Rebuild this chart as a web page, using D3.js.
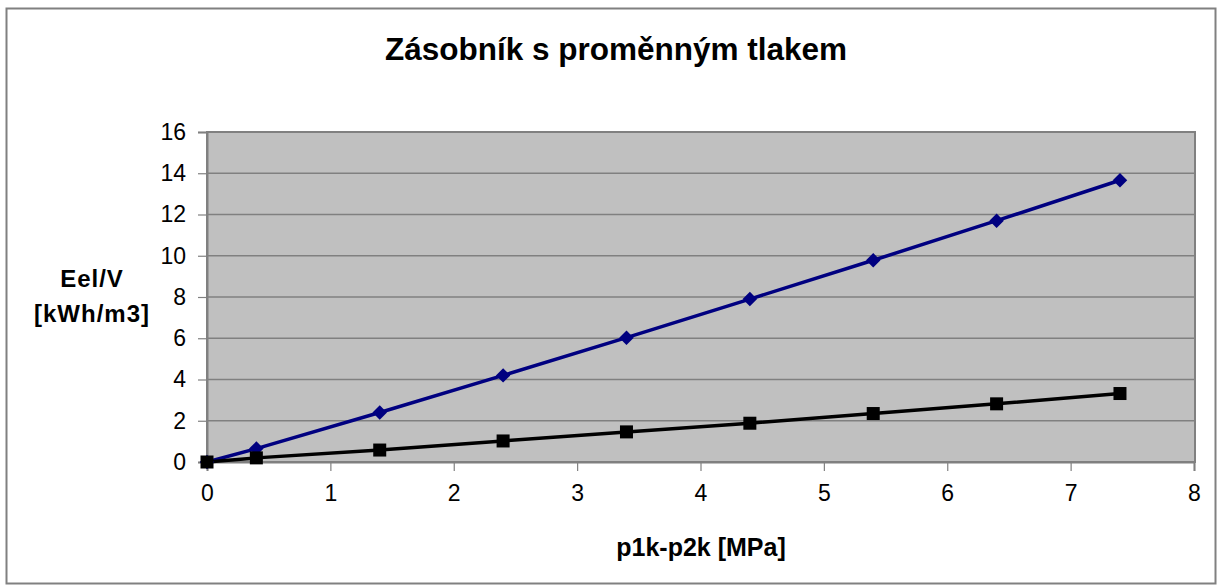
<!DOCTYPE html>
<html>
<head>
<meta charset="utf-8">
<script src="https://cdn.jsdelivr.net/npm/d3@7"></script>
<style>
  body { margin: 0; background: #fff; }
  text { font-family: "Liberation Sans", Arial, sans-serif; }
</style>
</head>
<body>
<div id="chart"></div>
<script>
// data
const pressure = [0, 0.4, 1.4, 2.4, 3.4, 4.4, 5.4, 6.4, 7.4];
const eBlue = [0, 0.65, 2.4, 4.2, 6.03, 7.9, 9.78, 11.7, 13.66];
const eBlack = [0, 0.2, 0.58, 1.02, 1.46, 1.88, 2.35, 2.82, 3.32];
const xTicks = [0, 1, 2, 3, 4, 5, 6, 7, 8];
const yTicks = [0, 2, 4, 6, 8, 10, 12, 14, 16];

const W = 1223, H = 588;
const plot = {left: 207, top: 132, right: 1195, bottom: 462};

const svg = d3.select("#chart").append("svg")
  .attr("width", W).attr("height", H);

// outer frame
svg.append("rect")
  .attr("x", 6.5).attr("y", 8.5)
  .attr("width", 1209).attr("height", 575)
  .attr("fill", "#fff").attr("stroke", "#808080").attr("stroke-width", 2);

const x = d3.scaleLinear().domain([0, 8]).range([plot.left, plot.right - 1]);
const y = d3.scaleLinear().domain([0, 16]).range([plot.bottom, plot.top]);

// plot background
svg.append("rect")
  .attr("x", plot.left).attr("y", plot.top)
  .attr("width", plot.right - plot.left).attr("height", plot.bottom - plot.top)
  .attr("fill", "#c0c0c0").attr("stroke", "#808080").attr("stroke-width", 2);

// grid
svg.append("g").selectAll("line")
  .data(yTicks.slice(1, -1))
  .join("line")
  .attr("x1", plot.left).attr("x2", plot.right)
  .attr("y1", d => y(d)).attr("y2", d => y(d))
  .attr("stroke", "#808080").attr("stroke-width", 1.5);

// axes
const yAxis = svg.append("g")
  .attr("transform", `translate(${plot.left},0)`)
  .call(d3.axisLeft(y).tickValues(yTicks).tickSize(9).tickPadding(12));
const xAxis = svg.append("g")
  .attr("transform", `translate(0,${plot.bottom})`)
  .call(d3.axisBottom(x).tickValues(xTicks).tickSize(9).tickPadding(14));

[yAxis, xAxis].forEach(a => {
  a.select(".domain").attr("stroke", "#808080").attr("stroke-width", 2);
  a.selectAll(".tick line").attr("stroke", "#808080").attr("stroke-width", 1.2);
  a.selectAll(".tick text")
    .attr("fill", "#000")
    .style("font-size", "23px")
    .style("font-family", "'Liberation Sans', Arial, sans-serif");
});

// series lines
const line = d3.line().x((d, i) => x(pressure[i])).y(d => y(d));

svg.append("path").datum(eBlue)
  .attr("d", line).attr("fill", "none")
  .attr("stroke", "#000080").attr("stroke-width", 3.5);
svg.append("path").datum(eBlack)
  .attr("d", line).attr("fill", "none")
  .attr("stroke", "#000").attr("stroke-width", 3.5);

// markers
svg.append("g").selectAll("path")
  .data(eBlue)
  .join("path")
  .attr("transform", (d, i) => `translate(${x(pressure[i])},${y(d)}) rotate(45)`)
  .attr("d", d3.symbol(d3.symbolSquare, 105))
  .attr("fill", "#000080");

svg.append("g").selectAll("rect")
  .data(eBlack)
  .join("rect")
  .attr("x", (d, i) => x(pressure[i]) - 6.5)
  .attr("y", d => y(d) - 6.5)
  .attr("width", 13).attr("height", 13)
  .attr("fill", "#000");

// title and axis labels
svg.append("text")
  .attr("x", 616).attr("y", 60)
  .attr("text-anchor", "middle")
  .style("font-size", "31.5px").style("font-weight", "bold")
  .text("Zásobník s proměnným tlakem");

svg.append("text")
  .attr("x", 701).attr("y", 556)
  .attr("text-anchor", "middle")
  .style("font-size", "25px").style("font-weight", "bold")
  .text("p1k-p2k [MPa]");

const yl = svg.append("text")
  .attr("text-anchor", "middle")
  .style("font-size", "24px").style("font-weight", "bold")
  .style("letter-spacing", "1px");
yl.append("tspan").attr("x", 92).attr("y", 287).text("Eel/V");
yl.append("tspan").attr("x", 92).attr("y", 322).text("[kWh/m3]");
</script>
</body>
</html>
